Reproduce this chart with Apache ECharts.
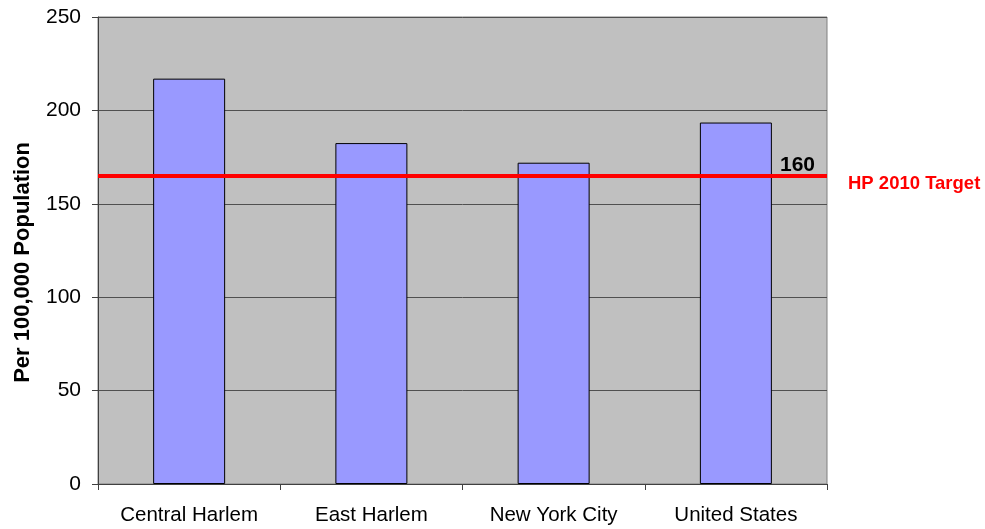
<!DOCTYPE html>
<html>
<head>
<meta charset="utf-8">
<script src="https://cdn.jsdelivr.net/npm/echarts@6/dist/echarts.min.js"></script>
<style>html,body{margin:0;padding:0;background:#fff}#c{width:985px;height:529px}</style>
</head>
<body>
<div id="c"></div>
<script>
const categories = ['Central Harlem', 'East Harlem', 'New York City', 'United States'];
const rates = [217, 182.5, 172, 193.5];
const targetValue = 165;
const targetValueLabel = '160';
const targetName = 'HP 2010 Target';
const yTicks = { min: 0, max: 250, interval: 50 };
const yAxisTitle = 'Per 100,000 Population';

const chart = echarts.init(document.getElementById('c'), null, { renderer: 'canvas' });
const font = 'Liberation Sans, Arial, sans-serif';
chart.setOption({
  animation: false,
  backgroundColor: '#ffffff',
  grid: {
    left: 98, right: 158, top: 17, bottom: 45,
    show: true, backgroundColor: '#C0C0C0', borderColor: '#808080', borderWidth: 1
  },
  xAxis: {
    type: 'category',
    data: categories,
    axisLine: { lineStyle: { color: '#404040', width: 1 } },
    axisTick: { show: true, interval: 0, length: 6, lineStyle: { color: '#404040' } },
    axisLabel: { color: '#000', fontFamily: font, fontSize: 20.5, margin: 21, interval: 0, hideOverlap: false }
  },
  yAxis: {
    type: 'value',
    min: yTicks.min, max: yTicks.max, interval: yTicks.interval,
    axisLine: { show: true, lineStyle: { color: '#404040', width: 1 } },
    axisTick: { show: true, length: 6, lineStyle: { color: '#404040' } },
    splitLine: { show: true, lineStyle: { color: '#505050', width: 1 } },
    axisLabel: { color: '#000', fontFamily: font, fontSize: 21, margin: 17 }
  },
  graphic: [{
    type: 'text',
    left: 12, top: 142,
    rotation: Math.PI / 2,
    style: { text: yAxisTitle, font: 'bold 22px ' + font, fill: '#000' }
  }],
  series: [{
    type: 'bar',
    data: rates,
    barWidth: 72,
    itemStyle: { color: '#9999FF', borderColor: '#000', borderWidth: 1 },
    markLine: {
      silent: true,
      symbol: 'none',
      lineStyle: { color: '#FF0000', width: 4, type: 'solid' },
      data: [
        {
          yAxis: targetValue,
          label: {
            show: true, position: 'insideEndTop', formatter: targetValueLabel,
            color: '#000', fontFamily: font, fontWeight: 'bold', fontSize: 21, distance: [12, 0]
          }
        },
        {
          yAxis: targetValue,
          label: {
            show: true, position: 'end', formatter: '\n' + targetName,
            color: '#FF0000', fontFamily: font, fontWeight: 'bold', fontSize: 18.5,
            lineHeight: 16, distance: 21
          }
        }
      ]
    }
  }]
});
</script>
</body>
</html>
